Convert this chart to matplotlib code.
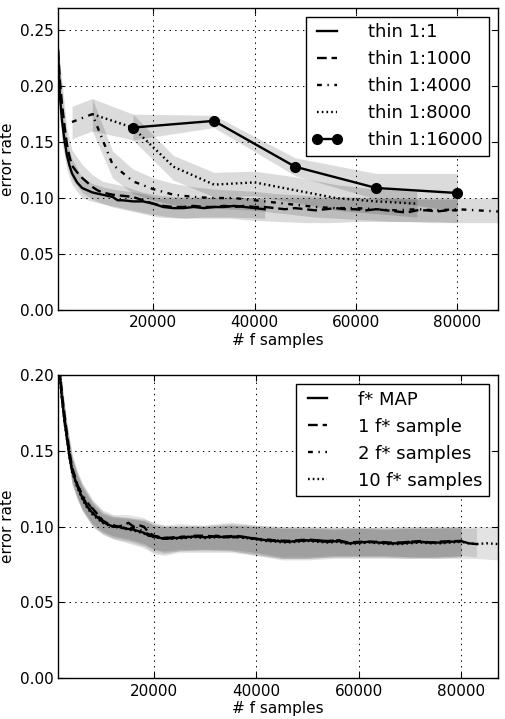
import numpy as np
import matplotlib
matplotlib.use('Agg')
import matplotlib.pyplot as plt

# ---- top panel: thinning ----
x_t1 = [1250, 1600, 2000, 2500, 3000, 3500, 4000, 5000, 6000, 7000, 8000, 9000, 10000, 11000, 12000,
        13000, 14000, 16000, 18000, 20000, 22000, 24000, 26000, 28000, 30000, 32000, 34000, 36000,
        38000, 40000, 42000]
y_t1 = [0.232, 0.192, 0.170, 0.152, 0.138, 0.129, 0.122, 0.114, 0.109, 0.107, 0.105, 0.104, 0.103,
        0.102, 0.101, 0.098, 0.098, 0.097, 0.097, 0.095, 0.092, 0.091, 0.091, 0.092, 0.091, 0.092,
        0.092, 0.093, 0.092, 0.091, 0.090]
bx_t1 = [1250, 2000, 3000, 4000, 6000, 8000, 10000, 12000, 15000, 18000, 21000, 25000, 30000, 35000, 42000]
hi_t1 = [0.235, 0.195, 0.150, 0.135, 0.118, 0.113, 0.110, 0.108, 0.106, 0.104, 0.100, 0.100, 0.100, 0.101, 0.100]
lo_t1 = [0.225, 0.150, 0.125, 0.112, 0.100, 0.097, 0.095, 0.092, 0.089, 0.086, 0.083, 0.082, 0.083, 0.083, 0.082]

x_t1000 = [1250, 1600, 2000, 2500, 3000, 3500, 4000, 5000, 6000, 7000, 8000, 9000, 10000,
           12000, 14000, 16000, 18000, 20000] + list(range(22000, 80001, 2000))
y_t1000 = [0.232, 0.205, 0.185, 0.165, 0.148, 0.137, 0.129, 0.123, 0.118, 0.114, 0.110, 0.107, 0.105,
           0.103, 0.102, 0.101, 0.098, 0.095,
           0.093, 0.092, 0.092, 0.093, 0.092, 0.092, 0.093, 0.092, 0.093, 0.092,
           0.092, 0.091, 0.090, 0.091, 0.090, 0.089, 0.090, 0.091, 0.090, 0.090,
           0.089, 0.090, 0.089, 0.088, 0.087, 0.089, 0.089, 0.088, 0.089, 0.089]
bx_t1000 = [1250, 2000, 3000, 4000, 6000, 8000, 10000, 14000, 18000, 22000, 26000, 30000, 35000, 40000,
            45000, 50000, 55000, 60000, 65000, 70000, 75000, 80000]
hi_t1000 = [0.235, 0.205, 0.162, 0.143, 0.130, 0.121, 0.115, 0.111, 0.105, 0.102, 0.101, 0.101, 0.101,
            0.100, 0.100, 0.100, 0.100, 0.100, 0.100, 0.099, 0.099, 0.099]
lo_t1000 = [0.222, 0.165, 0.135, 0.117, 0.105, 0.099, 0.095, 0.091, 0.087, 0.084, 0.082, 0.082, 0.082,
            0.080, 0.079, 0.078, 0.078, 0.079, 0.079, 0.079, 0.078, 0.078]

x_t4000 = list(range(4000, 88001, 4000))
y_t4000 = [0.168, 0.175, 0.130, 0.115, 0.108, 0.103, 0.101, 0.100, 0.100, 0.098, 0.096, 0.094, 0.092,
           0.091, 0.091, 0.090, 0.089, 0.090, 0.089, 0.090, 0.089, 0.088]
hi_t4000 = [0.182, 0.189, 0.142, 0.126, 0.118, 0.113, 0.110, 0.108, 0.107, 0.106, 0.104, 0.103, 0.102,
            0.101, 0.101, 0.100, 0.100, 0.100, 0.100, 0.100, 0.100, 0.100]
lo_t4000 = [0.153, 0.160, 0.118, 0.104, 0.098, 0.094, 0.092, 0.091, 0.090, 0.089, 0.087, 0.085, 0.083,
            0.082, 0.081, 0.080, 0.079, 0.079, 0.079, 0.078, 0.078, 0.078]

x_t8000 = list(range(8000, 72001, 8000))
y_t8000 = [0.175, 0.163, 0.128, 0.112, 0.114, 0.107, 0.100, 0.097, 0.095]
hi_t8000 = [0.189, 0.175, 0.138, 0.123, 0.124, 0.119, 0.112, 0.108, 0.106]
lo_t8000 = [0.160, 0.152, 0.116, 0.101, 0.102, 0.096, 0.089, 0.086, 0.083]

x_t16000 = [16000, 32000, 48000, 64000, 80000]
y_t16000 = [0.163, 0.169, 0.128, 0.109, 0.1045]
hi_t16000 = [0.175, 0.174, 0.136, 0.122, 0.122]
lo_t16000 = [0.152, 0.163, 0.120, 0.099, 0.088]

# ---- bottom panel: number of f* samples ----
xb = [1250, 1600, 2000, 2500, 3000, 3500, 4000] + list(range(5000, 20001, 1000)) + list(range(22000, 80001, 2000))
y_map = [0.215, 0.200, 0.185, 0.170, 0.158, 0.146, 0.137,
         0.127, 0.119, 0.113, 0.109, 0.106, 0.103, 0.1015, 0.100, 0.100, 0.099, 0.0985, 0.098, 0.097, 0.096, 0.094, 0.0935,
         0.092, 0.0925, 0.093, 0.0935, 0.093, 0.0935, 0.093, 0.0935, 0.093, 0.092,
         0.091, 0.0905, 0.090, 0.0905, 0.091, 0.0905, 0.090, 0.0905, 0.089, 0.0895,
         0.090, 0.0895, 0.089, 0.089, 0.0895, 0.090, 0.0895, 0.0895, 0.090, 0.0905,
         0.089, 0.0885]
y_s1 = [0.215, 0.203, 0.188, 0.174, 0.161, 0.149, 0.139,
        0.128, 0.120, 0.114, 0.112, 0.108, 0.104, 0.102, 0.1005, 0.100, 0.101, 0.1025, 0.100, 0.101, 0.100, 0.096, 0.094,
        0.0925, 0.093, 0.093, 0.094, 0.094, 0.0935, 0.0935, 0.094, 0.093, 0.092,
        0.091, 0.091, 0.0905, 0.091, 0.0915, 0.091, 0.0905, 0.091, 0.0895, 0.090,
        0.090, 0.090, 0.0895, 0.0895, 0.090, 0.0905, 0.0895, 0.090, 0.0905, 0.0905]
y_s2 = [0.216, 0.201, 0.186, 0.171, 0.159, 0.147, 0.138,
        0.128, 0.121, 0.116, 0.111, 0.107, 0.104, 0.102, 0.101, 0.100, 0.0995, 0.099, 0.099, 0.0985, 0.0965, 0.095, 0.094,
        0.0925, 0.093, 0.0935, 0.093, 0.0935, 0.094, 0.0935, 0.093, 0.0925, 0.092,
        0.0915, 0.091, 0.0905, 0.0905, 0.091, 0.091, 0.0905, 0.091, 0.089, 0.0895,
        0.090, 0.0895, 0.089, 0.0895, 0.090, 0.090, 0.0895, 0.090, 0.090, 0.0905]
y_s10 = [0.214, 0.199, 0.184, 0.169, 0.157, 0.145, 0.136,
         0.126, 0.118, 0.112, 0.108, 0.105, 0.1025, 0.101, 0.100, 0.0995, 0.099, 0.098, 0.0975, 0.0965, 0.0955, 0.094, 0.093,
         0.092, 0.092, 0.0925, 0.093, 0.0925, 0.093, 0.093, 0.093, 0.0925, 0.0915,
         0.0905, 0.090, 0.0895, 0.090, 0.0905, 0.090, 0.0895, 0.090, 0.0885, 0.089,
         0.0895, 0.089, 0.0885, 0.0885, 0.089, 0.0895, 0.089, 0.089, 0.0895, 0.090,
         0.089, 0.0885, 0.089, 0.0885]
x_map = xb + [81500, 83000]
x_s10 = xb + [81500, 83000, 85000, 87200]

bx = [1250, 2000, 3000, 4000, 5000, 6000, 8000, 10000, 12000, 15000, 18000, 20000, 22000, 25000, 30000,
      35000, 40000, 45000, 50000, 55000, 60000, 65000, 70000, 75000, 80000]
hi_map = [0.222, 0.192, 0.166, 0.146, 0.135, 0.127, 0.116, 0.109, 0.107, 0.106, 0.104, 0.101, 0.100, 0.101,
          0.100, 0.101, 0.100, 0.099, 0.099, 0.098, 0.099, 0.098, 0.099, 0.099, 0.099, 0.099]
lo_map = [0.208, 0.178, 0.150, 0.128, 0.119, 0.111, 0.101, 0.096, 0.093, 0.091, 0.088, 0.085, 0.084, 0.085,
          0.085, 0.085, 0.083, 0.080, 0.080, 0.081, 0.081, 0.081, 0.080, 0.080, 0.081, 0.080]
hi_s1 = [0.224, 0.196, 0.169, 0.148, 0.137, 0.129, 0.118, 0.111, 0.108, 0.108, 0.106, 0.102, 0.101, 0.102,
         0.101, 0.102, 0.101, 0.100, 0.100, 0.099, 0.100, 0.099, 0.100, 0.100, 0.100]
lo_s1 = [0.207, 0.180, 0.152, 0.130, 0.120, 0.112, 0.102, 0.097, 0.094, 0.092, 0.089, 0.085, 0.083, 0.084,
         0.085, 0.084, 0.082, 0.079, 0.079, 0.080, 0.080, 0.080, 0.080, 0.079, 0.080]
hi_s2 = [0.223, 0.194, 0.167, 0.147, 0.136, 0.128, 0.117, 0.110, 0.107, 0.106, 0.105, 0.103, 0.101, 0.100,
         0.101, 0.103, 0.101, 0.100, 0.100, 0.100, 0.099, 0.100, 0.100, 0.100, 0.100]
lo_s2 = [0.209, 0.177, 0.150, 0.129, 0.118, 0.111, 0.100, 0.095, 0.092, 0.090, 0.087, 0.083, 0.082, 0.084,
         0.084, 0.084, 0.081, 0.079, 0.079, 0.080, 0.080, 0.080, 0.079, 0.080, 0.080]
hi_s10 = [0.221, 0.193, 0.165, 0.145, 0.134, 0.126, 0.115, 0.108, 0.106, 0.105, 0.104, 0.101, 0.100, 0.100,
          0.100, 0.101, 0.100, 0.099, 0.099, 0.099, 0.099, 0.099, 0.099, 0.099, 0.100, 0.100, 0.100]
lo_s10 = [0.206, 0.176, 0.149, 0.127, 0.118, 0.110, 0.100, 0.095, 0.092, 0.089, 0.086, 0.082, 0.081, 0.083,
          0.083, 0.083, 0.081, 0.078, 0.078, 0.079, 0.079, 0.079, 0.079, 0.079, 0.079, 0.079, 0.078]
bx_map = bx + [83000]
bx_s10 = bx + [83000, 87200]

# line styles (old-style dash patterns, in points)
plt.rcParams['lines.scale_dashes'] = False
plt.rcParams['font.family'] = 'DejaVu Sans'
plt.rcParams['font.size'] = 11
plt.rcParams['xtick.direction'] = 'in'
plt.rcParams['ytick.direction'] = 'in'
plt.rcParams['xtick.top'] = True
plt.rcParams['ytick.right'] = True
plt.rcParams['xtick.major.size'] = 4
plt.rcParams['ytick.major.size'] = 4
plt.rcParams['xtick.major.pad'] = 4
plt.rcParams['ytick.major.pad'] = 3

LW = 1.7
SOLID = '-'
DASHED = (0, (7, 3.5))
DASHDOT = (0, (3.5, 4, 1, 4))
DOTTED = (0, (1.2, 2.2))

fig = plt.figure(figsize=(5.05, 7.19), dpi=100)
ax1 = fig.add_axes([0.115, 0.569, 0.871, 0.420])
ax2 = fig.add_axes([0.115, 0.057, 0.871, 0.421])


def band(ax, x, lo, hi, a):
    ax.fill_between(x, lo, hi, color='k', alpha=a, lw=0)


A1 = 0.14
band(ax1, bx_t1, lo_t1, hi_t1, A1)
band(ax1, bx_t1000, lo_t1000, hi_t1000, A1)
band(ax1, x_t4000, lo_t4000, hi_t4000, A1)
band(ax1, x_t8000, lo_t8000, hi_t8000, A1)
band(ax1, x_t16000, lo_t16000, hi_t16000, A1)
ax1.plot(x_t1, y_t1, color='k', lw=LW, ls=SOLID, label='thin 1:1')
ax1.plot(x_t1000, y_t1000, color='k', lw=LW, ls=DASHED, label='thin 1:1000')
ax1.plot(x_t4000, y_t4000, color='k', lw=LW, ls=DASHDOT, label='thin 1:4000')
ax1.plot(x_t8000, y_t8000, color='k', lw=LW, ls=DOTTED, label='thin 1:8000')
ax1.plot(x_t16000, y_t16000, color='k', lw=LW, ls=SOLID, marker='o', ms=7, label='thin 1:16000')

A2 = 0.11
band(ax2, bx_map, lo_map, hi_map, A2)
band(ax2, bx, lo_s1, hi_s1, A2)
band(ax2, bx, lo_s2, hi_s2, A2)
band(ax2, bx_s10, lo_s10, hi_s10, A2)
ax2.plot(x_map, y_map, color='k', lw=LW, ls=SOLID, label='f* MAP')
ax2.plot(xb, y_s1, color='k', lw=LW, ls=DASHED, label='1 f* sample')
ax2.plot(xb, y_s2, color='k', lw=LW, ls=DASHDOT, label='2 f* samples')
ax2.plot(x_s10, y_s10, color='k', lw=LW, ls=DOTTED, label='10 f* samples')

for ax, ymax, yt, xmax in [(ax1, 0.27, [0, 0.05, 0.10, 0.15, 0.20, 0.25], 88000),
                           (ax2, 0.20, [0, 0.05, 0.10, 0.15, 0.20], 87200)]:
    ax.set_xlim(1250, xmax)
    ax.set_ylim(0, ymax)
    ax.set_xticks([20000, 40000, 60000, 80000])
    ax.set_yticks(yt)
    ax.set_yticklabels(['%.2f' % v for v in yt])
    ax.grid(True, color='k', ls=(0, (1, 3)), lw=0.7)
    ax.set_axisbelow(False)
    ax.set_xlabel('# f samples', labelpad=2)
    ax.set_ylabel('error rate', labelpad=4)
    for s in ax.spines.values():
        s.set_linewidth(1.0)
    leg = ax.legend(loc='upper right', fontsize=13, numpoints=2, fancybox=False, framealpha=1,
                    edgecolor='k', handlelength=1.7, handletextpad=1.4, labelspacing=0.5,
                    borderpad=0.35, borderaxespad=0.5)
    leg.get_frame().set_linewidth(1.0)

fig.savefig('out.png', dpi=100)
